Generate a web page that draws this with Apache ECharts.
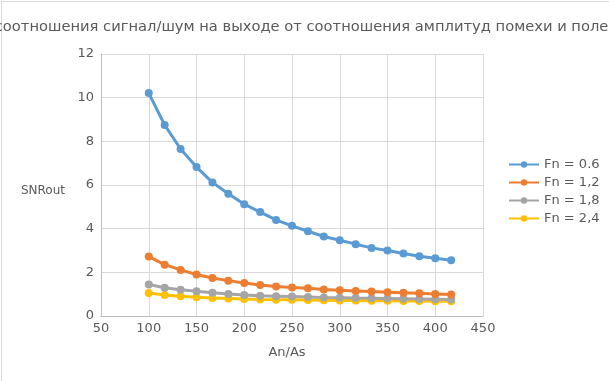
<!DOCTYPE html>
<html>
<head>
<meta charset="utf-8">
<script src="https://cdn.jsdelivr.net/npm/echarts@6/dist/echarts.min.js"></script>
<style>
html,body{margin:0;padding:0;background:#fff;}
#wrap{position:absolute;left:0;top:0;width:609px;height:381px;overflow:hidden;}
#frame{position:absolute;left:1px;top:1px;width:800px;height:600px;border-left:1px solid #d9d9d9;border-top:1px solid #d9d9d9;}
#c{position:absolute;left:0;top:0;width:609px;height:381px;}
</style>
</head>
<body>
<div id="wrap"><div id="frame"></div><div id="c"></div></div>
<script>
const titleText = 'Зависимость соотношения сигнал/шум на выходе от соотношения амплитуд помехи и полезного сигнала';
const xName = 'An/As';
const yName = 'SNRout';
const seriesNames = ['Fn = 0.6', 'Fn = 1,2', 'Fn = 1,8', 'Fn = 2,4'];
const xValues = [100, 116.67, 133.33, 150, 166.67, 183.33, 200, 216.67, 233.33, 250, 266.67, 283.33, 300, 316.67, 333.33, 350, 366.67, 383.33, 400, 416.67];
const fn06 = [10.21, 8.75, 7.65, 6.82, 6.12, 5.60, 5.12, 4.76, 4.40, 4.13, 3.88, 3.64, 3.47, 3.29, 3.12, 3.00, 2.86, 2.74, 2.65, 2.55];
const fn12 = [2.72, 2.35, 2.11, 1.90, 1.74, 1.62, 1.51, 1.42, 1.35, 1.30, 1.27, 1.21, 1.18, 1.15, 1.12, 1.09, 1.06, 1.04, 1.01, 0.99];
const fn18 = [1.44, 1.29, 1.20, 1.13, 1.06, 1.01, 0.96, 0.93, 0.91, 0.89, 0.87, 0.85, 0.84, 0.82, 0.81, 0.80, 0.79, 0.78, 0.77, 0.76];
const fn24 = [1.05, 0.96, 0.90, 0.86, 0.82, 0.80, 0.78, 0.76, 0.75, 0.74, 0.73, 0.72, 0.71, 0.71, 0.70, 0.70, 0.69, 0.69, 0.68, 0.68];
const colors = ['#5B9BD5', '#ED7D31', '#A5A5A5', '#FFC000'];
const allSeries = [fn06, fn12, fn18, fn24];

const chart = echarts.init(document.getElementById('c'), null, {renderer: 'canvas'});
const font = 'DejaVu Sans';
chart.setOption({
  animation: false,
  color: colors,
  textStyle: {fontFamily: font},
  title: {
    text: titleText,
    left: 'center',
    top: 15,
    textStyle: {fontFamily: font, fontSize: 14.7, fontWeight: 'normal', color: '#595959'}
  },
  legend: {
    orient: 'vertical',
    left: 503,
    top: 153,
    itemWidth: 30,
    itemHeight: 8,
    itemGap: 5,
    data: seriesNames,
    textStyle: {fontFamily: font, fontSize: 13, color: '#595959'}
  },
  grid: {left: 101, right: 126, top: 54, bottom: 65, containLabel: false},
  xAxis: {
    type: 'value',
    min: 50, max: 450, interval: 50,
    name: xName,
    nameLocation: 'middle',
    nameGap: 30,
    nameTextStyle: {fontFamily: font, fontSize: 13, color: '#595959', padding: [0, 10, 0, 0]},
    axisLine: {show: true, lineStyle: {color: '#bfbfbf', width: 1}},
    axisTick: {show: false},
    axisLabel: {fontFamily: font, fontSize: 13, color: '#595959', margin: 6},
    splitLine: {show: true, lineStyle: {color: '#d9d9d9', width: 1}}
  },
  yAxis: {
    type: 'value',
    min: 0, max: 12, interval: 2,
    name: yName,
    nameLocation: 'middle',
    nameRotate: 0,
    nameGap: 36,
    nameTextStyle: {fontFamily: font, fontSize: 12, color: '#595959', verticalAlign: 'top'},
    axisLine: {show: true, lineStyle: {color: '#bfbfbf', width: 1}},
    axisTick: {show: false},
    axisLabel: {fontFamily: font, fontSize: 13, color: '#595959', margin: 7},
    splitLine: {show: true, lineStyle: {color: '#d9d9d9', width: 1}}
  },
  series: allSeries.map((vals, i) => ({
    name: seriesNames[i],
    type: 'line',
    data: xValues.map((x, j) => [x, vals[j]]),
    symbol: 'circle',
    symbolSize: 8,
    showSymbol: true,
    lineStyle: {width: 3, color: colors[i]},
    itemStyle: {color: colors[i]},
    z: 10 - i
  }))
});
</script>
</body>
</html>
